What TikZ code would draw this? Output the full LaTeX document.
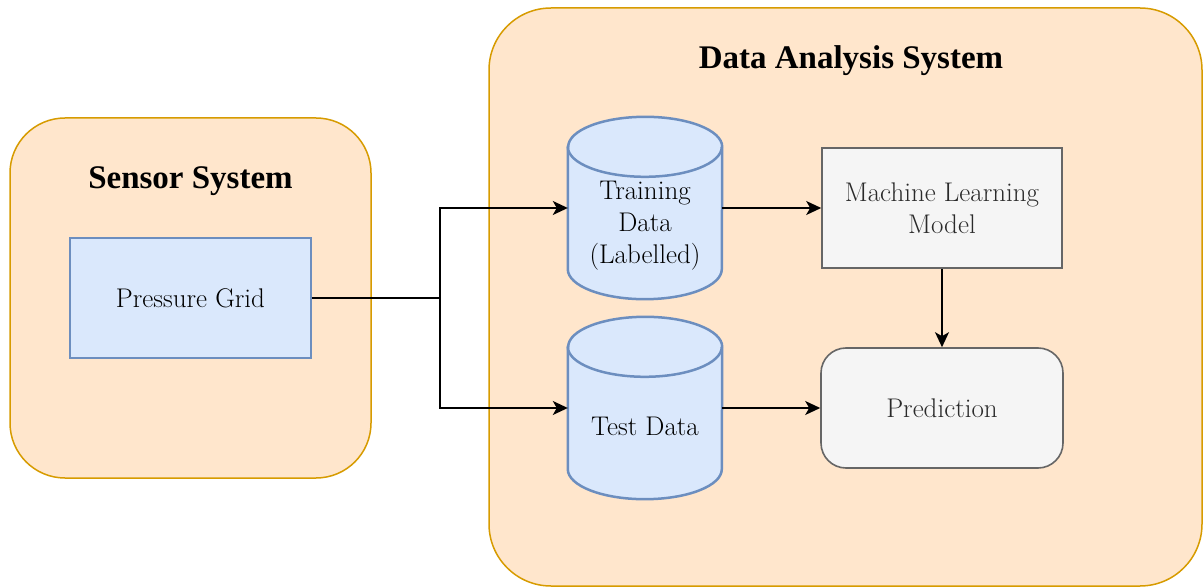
\documentclass[tikz,border=0pt]{standalone}
\usepackage{fontspec}
\newfontfamily\titlefont{Liberation Serif}
\usetikzlibrary{arrows.meta}
\definecolor{orfill}{HTML}{FFE6CC}
\definecolor{orline}{HTML}{D79B00}
\definecolor{blfill}{HTML}{DAE8FC}
\definecolor{blline}{HTML}{6C8EBF}
\definecolor{gyfill}{HTML}{F5F5F5}
\definecolor{gyline}{HTML}{666666}
\definecolor{gytext}{HTML}{2A2A2A}
\tikzset{
  container/.style={draw=orline, fill=orfill, line width=1.5pt, rounded corners=55pt, inner sep=0pt},
  titletext/.style={font=\titlefont\fontsize{33}{38}\selectfont\bfseries, text=black},
  bodyfont/.style={font=\fontsize{27}{32}\selectfont},
  bluebox/.style={draw=blline, fill=blfill, line width=1.5pt, inner sep=0pt, bodyfont},
  graybox/.style={draw=gyline, fill=gyfill, line width=1.6pt, inner sep=0pt, text=gytext, bodyfont, align=center},
  cylframe/.style={inner sep=0pt, minimum width=154pt, minimum height=182pt},
  cyltext/.style={bodyfont, align=center, text=black},
  cylline/.style={draw=blline, fill=blfill, line width=2.5pt},
  conn/.style={draw=black, line width=1.8pt, -{Stealth[length=15pt, width=14pt, inset=4pt]}},
  plain/.style={draw=black, line width=1.8pt}
}
\newcommand{\mycyl}[1]{%
  \draw[cylline] ([yshift=-30pt]#1.north west) -- ([yshift=30pt]#1.south west)
    arc[start angle=180, end angle=360, x radius=77pt, y radius=30pt]
    -- ([yshift=-30pt]#1.north east)
    arc[start angle=0, end angle=180, x radius=77pt, y radius=30pt] -- cycle;
  \draw[draw=blline, line width=2.5pt] ([yshift=-30pt]#1.north west)
    arc[start angle=180, end angle=360, x radius=77pt, y radius=30pt];
}
\begin{document}
\begin{tikzpicture}[x=1pt, y=-1pt]
\useasboundingbox (0,0) rectangle (1203,588);
% containers
\node[container, minimum width=361pt, minimum height=360pt] (sensor) at (190.5,298) {};
\node[container, minimum width=713pt, minimum height=578pt, rounded corners=62pt] (das) at (845.5,297) {};
\node[titletext] (sensortitle) at (190.5,181) {Sensor System};
\node[titletext] (dastitle) at (851,61) {Data Analysis System};
% pressure grid
\node[bluebox, minimum width=241pt, minimum height=120pt] (grid) at (190.5,298) {Pressure Grid};
% cylinders
\node[cylframe] (train) at (645,208) {};
\node[cylframe] (test) at (645,408) {};
\mycyl{train}
\mycyl{test}
\node[cyltext] (traintext) at (645,226) {Training\\Data\\(Labelled)};
\node[cyltext] (testtext) at (645,426) {Test Data};
% gray boxes
\node[graybox, minimum width=240pt, minimum height=120pt] (ml) at (942,208) {Machine Learning\\Model};
\node[graybox, minimum width=242pt, minimum height=120pt, rounded corners=25pt] (pred) at (942,408) {Prediction};
% connectors
\coordinate (split) at (440,298);
\draw[plain] (grid.east) -- (split);
\draw[conn] (split) |- (train.west);
\draw[conn] (split) |- (test.west);
\draw[conn] (train.east) -- (ml.west);
\draw[conn] (test.east) -- (pred.west);
\draw[conn] (ml.south) -- (pred.north);
\end{tikzpicture}
\end{document}
